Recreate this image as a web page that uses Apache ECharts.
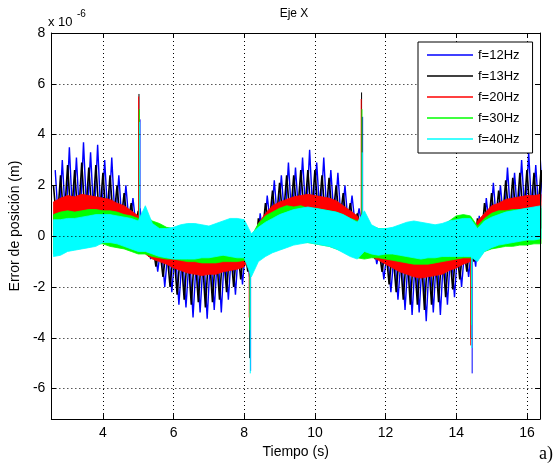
<!DOCTYPE html>
<html>
<head>
<meta charset="utf-8">
<script src="https://cdn.jsdelivr.net/npm/echarts@6/dist/echarts.min.js"></script>
<style>html,body{margin:0;padding:0;background:#fff}#chart{width:558px;height:464px}</style>
</head>
<body>
<div id="chart"></div>
<script>
// sample times (s), values in units of 1e-6 m
const tGrid = [2.6,2.8,3.0,3.2,3.4,3.6,3.8,4.0,4.2,4.4,
  4.6,4.8,5.0,5.2,5.4,5.6,5.8,6.0,6.2,6.4,
  6.6,6.8,7.0,7.2,7.4,7.6,7.8,8.0,8.2,8.4,
  8.6,8.8,9.0,9.2,9.4,9.6,9.8,10.0,10.2,10.4,
  10.6,10.8,11.0,11.2,11.4,11.6,11.8,12.0,12.2,12.4,
  12.6,12.8,13.0,13.2,13.4,13.6,13.8,14.0,14.2,14.4,
  14.6,14.8,15.0,15.2,15.4,15.6,15.8,16.0,16.2,16.4];

// upper / lower envelope of each signal at tGrid
const up12 = [2.6,3.0,3.5,3.1,3.7,3.3,3.6,3.0,3.1,2.4,
  2.0,1.5,1.1,0.3,-0.1,-0.3,-0.4,-0.5,-0.6,-0.6,
  -0.7,-0.6,-0.6,-0.5,-0.4,-0.3,-0.2,-0.2,0.0,0.9,
  1.6,2.2,2.4,2.9,2.7,3.1,3.4,2.9,3.1,2.6,
  2.5,2.0,1.6,1.1,0.4,-0.2,-0.4,-0.5,-0.5,-0.6,
  -0.6,-0.6,-0.6,-0.6,-0.5,-0.5,-0.4,-0.3,-0.3,-0.2,
  0.8,1.5,2.1,2.0,2.7,2.5,3.0,3.3,2.8,3.1];
const lo12 = [0.3,0.4,0.5,0.4,0.6,0.5,0.5,0.4,0.4,0.3,
  0.3,0.2,0.1,-0.9,-1.4,-2.0,-2.2,-2.7,-2.8,-3.2,
  -3.0,-3.25,-2.9,-3.0,-2.5,-2.3,-1.9,-1.6,-0.8,-0.2,
  0.3,0.4,0.5,0.5,0.6,0.6,0.6,0.6,0.5,0.5,
  0.4,0.3,0.3,0.2,-0.6,-1.1,-1.7,-2.2,-2.5,-2.9,
  -3.1,-3.0,-3.35,-3.0,-3.1,-2.7,-2.4,-2.0,-1.6,-1.2,
  -0.5,0.2,0.3,0.4,0.5,0.5,0.6,0.6,0.6,0.6];

const up13 = [2.0,2.4,2.8,2.6,2.9,2.7,2.8,2.5,2.4,2.0,
  1.7,1.3,1.0,0.1,-0.2,-0.4,-0.4,-0.5,-0.5,-0.5,
  -0.5,-0.5,-0.5,-0.4,-0.4,-0.3,-0.3,-0.3,0.0,0.7,
  1.3,1.8,2.1,2.4,2.4,2.6,2.6,2.6,2.4,2.3,
  2.0,1.7,1.3,0.9,0.3,-0.3,-0.4,-0.4,-0.5,-0.5,
  -0.5,-0.5,-0.5,-0.5,-0.5,-0.4,-0.4,-0.3,-0.3,-0.2,
  0.7,1.3,1.7,1.8,2.2,2.3,2.5,2.6,2.5,2.6];
const lo13 = [0.4,0.5,0.6,0.5,0.6,0.6,0.6,0.5,0.5,0.4,
  0.4,0.3,0.2,-0.8,-1.2,-1.6,-2.0,-2.3,-2.5,-2.7,
  -2.6,-2.8,-2.6,-2.5,-2.2,-2.0,-1.7,-1.4,-0.9,-0.1,
  0.4,0.5,0.6,0.6,0.7,0.7,0.7,0.7,0.6,0.6,
  0.5,0.4,0.4,0.3,-0.5,-0.9,-1.4,-1.9,-2.2,-2.5,
  -2.7,-2.7,-2.9,-2.7,-2.6,-2.4,-2.1,-1.7,-1.4,-1.0,
  -0.3,0.3,0.4,0.5,0.6,0.6,0.7,0.7,0.7,0.7];

const up20 = [1.35,1.5,1.6,1.55,1.65,1.6,1.55,1.5,1.45,1.3,
  1.2,1.0,0.8,0.0,-0.3,-0.4,-0.4,-0.4,-0.4,-0.4,
  -0.4,-0.4,-0.4,-0.4,-0.4,-0.4,-0.4,-0.3,-0.2,0.5,
  0.9,1.2,1.35,1.45,1.55,1.6,1.65,1.6,1.55,1.5,
  1.4,1.2,1.0,0.8,0.2,-0.3,-0.4,-0.4,-0.4,-0.4,
  -0.4,-0.4,-0.4,-0.4,-0.4,-0.4,-0.4,-0.4,-0.4,-0.3,
  0.6,0.9,1.2,1.3,1.45,1.5,1.55,1.6,1.6,1.65];
const lo20 = [0.2,0.3,0.3,0.3,0.3,0.3,0.3,0.3,0.3,0.2,
  0.2,0.2,0.1,-0.7,-0.9,-1.0,-1.1,-1.25,-1.35,-1.45,
  -1.5,-1.55,-1.5,-1.5,-1.4,-1.35,-1.3,-1.2,-0.8,0.0,
  0.3,0.3,0.3,0.3,0.3,0.3,0.3,0.3,0.3,0.3,
  0.3,0.3,0.3,0.3,-0.4,-0.8,-0.95,-1.1,-1.25,-1.4,
  -1.5,-1.6,-1.65,-1.6,-1.55,-1.5,-1.35,-1.25,-1.1,-1.0,
  -0.2,0.3,0.3,0.3,0.3,0.3,0.3,0.3,0.3,0.3];

const up30 = [0.85,0.95,1.0,0.95,1.0,1.05,1.05,1.0,1.0,0.95,
  0.85,0.8,0.7,0.8,0.6,0.5,0.35,0.3,0.3,0.3,
  0.3,0.3,0.3,0.3,0.35,0.4,0.4,0.4,0.0,0.5,
  0.8,0.95,1.1,1.2,1.15,1.2,1.1,1.1,1.05,1.0,
  0.95,0.85,0.7,0.6,0.5,0.4,0.3,0.3,0.3,0.3,
  0.3,0.3,0.3,0.3,0.35,0.4,0.6,0.8,0.85,0.8,
  0.4,0.7,0.9,1.0,1.0,1.05,1.05,1.1,1.1,1.1];
const lo30 = [-0.7,-0.6,-0.5,-0.45,-0.4,-0.35,-0.3,-0.3,-0.4,-0.45,
  -0.5,-0.6,-0.7,-0.7,-0.8,-0.85,-0.9,-0.9,-0.95,-1.0,
  -1.0,-1.05,-1.05,-1.05,-1.0,-1.0,-1.0,-0.95,-1.2,-0.8,
  -0.7,-0.6,-0.5,-0.4,-0.3,-0.25,-0.25,-0.3,-0.35,-0.4,
  -0.5,-0.6,-0.75,-0.85,-0.9,-0.85,-0.85,-0.9,-0.95,-1.0,
  -1.05,-1.1,-1.1,-1.1,-1.05,-1.0,-0.95,-0.9,-0.85,-0.85,
  -0.9,-0.6,-0.5,-0.45,-0.4,-0.4,-0.35,-0.35,-0.3,-0.3];

const up40 = [0.65,0.65,0.7,0.7,0.75,0.8,0.85,0.85,0.85,0.8,
  0.75,0.7,0.6,1.2,0.5,0.3,0.3,0.35,0.45,0.5,
  0.5,0.45,0.4,0.5,0.6,0.7,0.7,0.65,0.1,0.35,
  0.55,0.7,0.85,0.95,1.05,1.1,1.15,1.1,1.05,1.0,
  0.95,0.85,0.7,0.55,1.0,0.45,0.3,0.3,0.35,0.45,
  0.55,0.6,0.55,0.5,0.45,0.5,0.6,0.65,0.7,0.7,
  0.3,0.6,0.75,0.85,0.95,1.0,1.05,1.1,1.15,1.2];
const lo40 = [-0.8,-0.75,-0.6,-0.55,-0.5,-0.45,-0.4,-0.25,-0.25,-0.3,
  -0.4,-0.5,-0.6,-0.6,-0.7,-0.8,-0.85,-0.9,-0.9,-0.9,
  -0.9,-0.85,-0.85,-0.8,-0.75,-0.8,-0.85,-0.85,-1.6,-1.0,
  -0.8,-0.65,-0.55,-0.45,-0.35,-0.3,-0.25,-0.3,-0.35,-0.4,
  -0.5,-0.65,-0.8,-0.9,-0.6,-0.7,-0.75,-0.7,-0.7,-0.75,
  -0.8,-0.85,-0.9,-0.85,-0.85,-0.8,-0.8,-0.8,-0.8,-0.8,
  -1.0,-0.6,-0.45,-0.35,-0.3,-0.25,-0.2,-0.15,-0.15,-0.1];

// transients at each switching instant
const spikeTimes = [5.02, 8.15, 11.32, 14.42];
const spike12 = [4.6, -5.3, 4.7, -5.4];
const spike13 = [5.6, -4.8, 5.66, -4.0];
const spike20 = [5.5, -3.2, 5.4, -4.3];
const spike30 = [5.0, -3.7, 5.0, -3.5];
const spike40 = [4.5, -5.4, 3.3, -4.4];

const names = ['f=12Hz', 'f=13Hz', 'f=20Hz', 'f=30Hz', 'f=40Hz'];
const colors = ['#0000ff', '#000000', '#ff0000', '#00ff00', '#00ffff'];

const FONT = 'Liberation Sans, Arial, sans-serif';

function zigzag(up, lo, shift) {
    const out = [];
    tGrid.forEach(function (t, i) {
        out.push([t + shift, up[i]]);
        out.push([t + 0.1 + shift, lo[i]]);
    });
    return out;
}

function spikeData(peaks, shift) {
    const out = [];
    spikeTimes.forEach(function (t, i) {
        out.push([t + shift, 0], [t + shift, peaks[i]], [t + shift, '-']);
    });
    return out;
}

function lineSeries(name, data, color, z, width) {
    return {
        type: 'line', name: name, data: data, symbol: 'none', silent: true, z: z,
        lineStyle: {color: color, width: width || 1}, itemStyle: {color: color}
    };
}

// filled band between lower and upper envelope, drawn as one polygon
function bandSeries(name, up, lo, color, z) {
    return {
        type: 'custom', name: name, silent: true, z: z,
        itemStyle: {color: color},
        data: tGrid.map(function (t, i) { return [t, lo[i], up[i]]; }),
        encode: {x: 0, y: [1, 2]},
        renderItem: function (params, api) {
            if (params.dataIndex !== 0) return null;
            const pts = [];
            tGrid.forEach(function (t, i) { pts.push(api.coord([t, up[i]])); });
            for (let i = tGrid.length - 1; i >= 0; i--) pts.push(api.coord([tGrid[i], lo[i]]));
            return {
                type: 'polygon', shape: {points: pts},
                style: {fill: color, stroke: color, lineWidth: 0.8}
            };
        }
    };
}

const series = [
    lineSeries(names[0], zigzag(up12, lo12, 0.05), colors[0], 2, 1.4),
    lineSeries('_sp12', spikeData(spike12, 0.03), colors[0], 2),
    lineSeries(names[1], zigzag(up13, lo13, 0), colors[1], 3, 1.6),
    lineSeries('_sp13', spikeData(spike13, 0), colors[1], 3),
    bandSeries(names[2], up20, lo20, colors[2], 4),
    lineSeries('_sp20', spikeData(spike20, -0.01), colors[2], 4),
    bandSeries(names[3], up30, lo30, colors[3], 5),
    lineSeries('_sp30', spikeData(spike30, 0.01), colors[3], 5),
    bandSeries(names[4], up40, lo40, colors[4], 6),
    lineSeries('_sp40', spikeData(spike40, 0.02), colors[4], 6)
];

const gridLine = {show: true, lineStyle: {color: '#000', width: 1, type: [1, 3]}};
const axisBase = {
    z: 8,
    axisLine: {show: true, onZero: false, lineStyle: {color: '#000', width: 1}},
    axisTick: {show: true, inside: true, length: 5, lineStyle: {color: '#000'}},
    minInterval: 2, maxInterval: 2, splitNumber: 7
};

const chart = echarts.init(document.getElementById('chart'));
chart.setOption({
    animation: false,
    backgroundColor: '#fff',
    grid: {left: 48, right: 18, top: 33, bottom: 44},
    legend: {
        z: 10,
        data: names, orient: 'vertical', left: 418, top: 42,
        icon: 'rect', itemWidth: 46, itemHeight: 1.5, itemGap: 7,
        backgroundColor: '#fff', borderColor: '#000', borderWidth: 1,
        padding: [6, 13, 7, 9], selectedMode: false,
        textStyle: {fontFamily: FONT, fontSize: 13, color: '#000', lineHeight: 14}
    },
    xAxis: [
        Object.assign({}, axisBase, {
            type: 'value', min: 2.54, max: 16.37, position: 'bottom',
            splitLine: gridLine,
            axisLabel: {showMinLabel: false, showMaxLabel: false, margin: 7,
                fontFamily: FONT, fontSize: 14, color: '#000'},
            name: 'Tiempo (s)', nameLocation: 'middle', nameGap: 24,
            nameTextStyle: {fontFamily: FONT, fontSize: 14, color: '#000'}
        }),
        Object.assign({}, axisBase, {
            type: 'value', min: 2.54, max: 16.37, position: 'top',
            splitLine: {show: false}, axisLabel: {show: false}
        })
    ],
    yAxis: [
        Object.assign({}, axisBase, {
            type: 'value', min: -7.2, max: 8, position: 'left',
            splitLine: gridLine,
            axisLabel: {showMinLabel: false, margin: 6,
                fontFamily: FONT, fontSize: 14, color: '#000'},
            name: 'Error de posición (m)', nameLocation: 'middle', nameGap: 24,
            nameTextStyle: {fontFamily: FONT, fontSize: 14, color: '#000'}
        }),
        Object.assign({}, axisBase, {
            type: 'value', min: -7.2, max: 8, position: 'right',
            splitLine: {show: false}, axisLabel: {show: false}
        })
    ],
    graphic: [
        {type: 'text', x: 294, y: 8, style: {text: 'Eje X', fontFamily: FONT, fontSize: 12, fill: '#000', textAlign: 'center'}},
        {type: 'text', x: 48, y: 16, style: {text: 'x 10', fontFamily: FONT, fontSize: 13, fill: '#000'}},
        {type: 'text', x: 77, y: 9, style: {text: '-6', fontFamily: FONT, fontSize: 10, fill: '#000'}},
        {type: 'text', x: 539, y: 445, style: {text: 'a)', fontFamily: 'Liberation Serif, Times New Roman, serif', fontSize: 18, fill: '#000'}}
    ],
    series: series
});
</script>
</body>
</html>
